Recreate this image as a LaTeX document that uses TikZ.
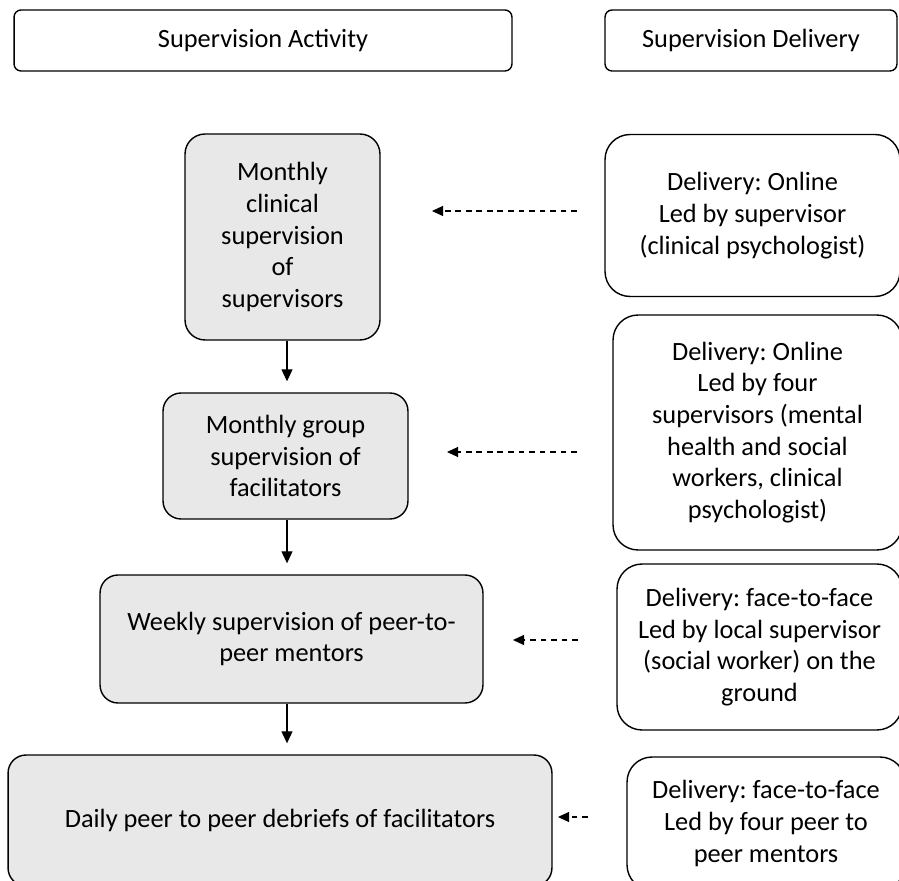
\documentclass[tikz,border=0pt]{standalone}
\usepackage{fontspec}
\setmainfont{Carlito}
\usepackage{tikz}
\usetikzlibrary{arrows.meta,backgrounds}
\frenchspacing
\tikzset{
  headbox/.style={ draw, line width=0.8pt, rounded corners=0.14cm, align=center, font=\fontsize{15}{18}\selectfont }
}
\tikzset{
  actbox/.style={ draw, line width=0.8pt, fill=gray!18, rounded corners=0.36cm, align=center, font=\fontsize{15}{18}\selectfont }
}
\tikzset{
  delbox/.style={ draw, line width=0.8pt, fill=white, rounded corners=0.5cm, align=center, font=\fontsize{15}{18}\selectfont }
}
\tikzset{
  solarr/.style={ -{Triangle[length=0.24cm, width=0.22cm]}, line width=0.6pt, shorten >=0.22cm }
}
\tikzset{
  dasharr/.style={ -{Triangle[length=0.22cm, width=0.2cm]}, line width=0.6pt, dash pattern=on 3.3pt off 2.7pt }
}

\begin{document}
\begin{tikzpicture}[x=0.02cm, y=-0.02cm]
      \useasboundingbox (0, 0) rectangle (899, 881);
      \clip (0, 0) rectangle (899, 881);

      \node[headbox, minimum width=9.96cm, minimum height=1.22cm] (ha) at (263, 40.5) {Supervision Activity};
      \node[headbox, minimum width=5.84cm, minimum height=1.22cm] (hd) at (751, 40.5) {Supervision Delivery};

      \node[actbox, minimum width=3.9cm, minimum height=4.12cm, rounded corners=0.4cm] (a1) at (282.5, 237)
        {Monthly\\clinical\\supervision\\of\\supervisors};
      \node[actbox, minimum width=4.9cm, minimum height=2.52cm] (a2) at (285.5, 456)
        {Monthly group\\supervision of\\facilitators};
      \node[actbox, minimum width=7.66cm, minimum height=2.56cm] (a3) at (291.5, 639)
        {Weekly supervision of peer-to-\\peer mentors};
      \node[actbox, minimum width=10.88cm, minimum height=2.62cm] (a4) at (280, 820.5)
        {Daily peer to peer debriefs of facilitators};

      \node[delbox, minimum width=5.9cm, minimum height=3.24cm] (d1) at (752.5, 215.5)
        {Delivery: Online\\Led by supervisor\\(clinical psychologist)};
      \node[delbox, minimum width=5.78cm, minimum height=4.7cm] (d2) at (757.5, 432.5)
        {Delivery: Online\\Led by four\\supervisors (mental\\health and social\\workers, clinical\\psychologist)};
      \node[delbox, minimum width=5.7cm, minimum height=3.32cm] (d3) at (759.5, 647)
        {Delivery: face-to-face\\Led by local supervisor\\(social worker) on the\\ground};
      \node[delbox, minimum width=5.56cm, minimum height=2.66cm] (d4) at (766, 823.5)
        {Delivery: face-to-face\\Led by four peer to\\peer mentors};

      % vertical flow
      \coordinate (ax) at (287, 0);
      \draw[solarr] (a1.south -| ax) -- (a2.north -| ax);
      \draw[solarr] (a2.south -| ax) -- (a3.north -| ax);
      \draw[solarr] (a3.south -| ax) -- (a4.north -| ax);

      % delivery arrows
      \coordinate (q1) at (577, 211);
      \coordinate (r1) at (432, 211);
      \draw[dasharr] (q1) -- (r1);
      \coordinate (q2) at (577, 452);
      \coordinate (r2) at (447, 452);
      \draw[dasharr] (q2) -- (r2);
      \coordinate (q3) at (578, 640);
      \coordinate (r3) at (513, 640);
      \draw[dasharr] (q3) -- (r3);
      \coordinate (q4) at (588, 817);
      \coordinate (r4) at (558, 817);
      \draw[dasharr] (q4) -- (r4);

    \end{tikzpicture}
\end{document}
